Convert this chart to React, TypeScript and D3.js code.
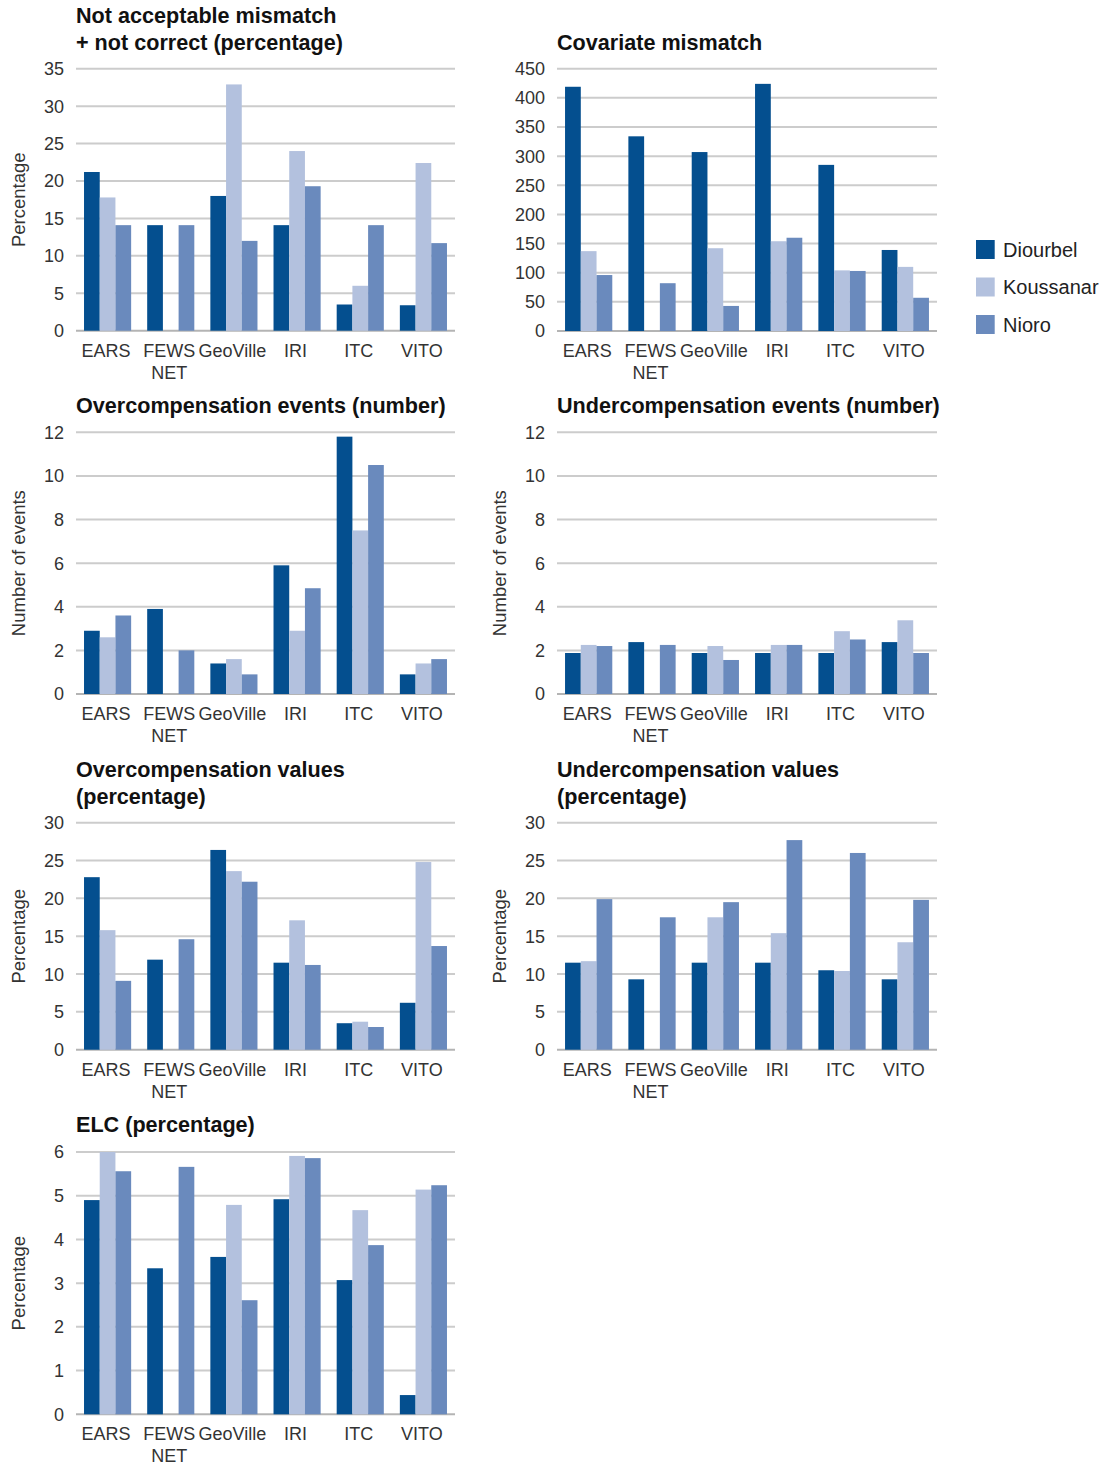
import React from "react";
import * as d3 from "d3";

// ---------- data ----------
const categories = ["EARS", "FEWS NET", "GeoVille", "IRI", "ITC", "VITO"];
const seriesNames = ["Diourbel", "Koussanar", "Nioro"];
const seriesColors = ["#044f8f", "#b3c1de", "#6a8abd"];

// null = no bar
const notAcceptableDiourbel = [21.2, 14.1, 18.0, 14.1, 3.5, 3.4];
const notAcceptableKoussanar = [17.8, null, 32.9, 24.0, 6.0, 22.4];
const notAcceptableNioro = [14.1, 14.1, 12.0, 19.3, 14.1, 11.7];

const covariateDiourbel = [419, 334, 307, 424, 285, 139];
const covariateKoussanar = [137, null, 142, 154, 104, 110];
const covariateNioro = [96, 82, 43, 160, 103, 57];

const overEventsDiourbel = [2.9, 3.9, 1.4, 5.9, 11.8, 0.9];
const overEventsKoussanar = [2.6, null, 1.6, 2.9, 7.5, 1.4];
const overEventsNioro = [3.6, 2.0, 0.9, 4.85, 10.5, 1.6];

const underEventsDiourbel = [1.88, 2.38, 1.88, 1.88, 1.88, 2.38];
const underEventsKoussanar = [2.25, null, 2.2, 2.25, 2.88, 3.38];
const underEventsNioro = [2.2, 2.25, 1.56, 2.25, 2.5, 1.88];

const overValuesDiourbel = [22.8, 11.9, 26.4, 11.5, 3.5, 6.2];
const overValuesKoussanar = [15.8, null, 23.6, 17.1, 3.7, 24.8];
const overValuesNioro = [9.1, 14.6, 22.2, 11.2, 3.0, 13.7];

const underValuesDiourbel = [11.5, 9.3, 11.5, 11.5, 10.5, 9.3];
const underValuesKoussanar = [11.7, null, 17.5, 15.4, 10.4, 14.2];
const underValuesNioro = [19.9, 17.5, 19.5, 27.7, 26.0, 19.8];

const elcDiourbel = [4.9, 3.34, 3.6, 4.92, 3.07, 0.44];
const elcKoussanar = [6.0, null, 4.79, 5.91, 4.67, 5.14];
const elcNioro = [5.56, 5.66, 2.61, 5.86, 3.87, 5.24];

const ticks35 = [0, 5, 10, 15, 20, 25, 30, 35];
const ticks450 = [0, 50, 100, 150, 200, 250, 300, 350, 400, 450];
const ticks12 = [0, 2, 4, 6, 8, 10, 12];
const ticks30 = [0, 5, 10, 15, 20, 25, 30];
const ticks6 = [0, 1, 2, 3, 4, 5, 6];

// ---------- layout / styles ----------
const FONT = "'Liberation Sans', Arial, Helvetica, sans-serif";

type Panel = {
  title: string[];
  yLabel?: string;
  values: (number | null)[][];
  ticks: number[];
  left: number;
  right: number;
  top: number;
  bottom: number;
  titleY: number;
};

const panels: Panel[] = [
  {
    title: ["Not acceptable mismatch", "+ not correct (percentage)"],
    yLabel: "Percentage",
    values: [notAcceptableDiourbel, notAcceptableKoussanar, notAcceptableNioro],
    ticks: ticks35,
    left: 76, right: 455, top: 68.7, bottom: 330.7, titleY: 23,
  },
  {
    title: ["Covariate mismatch"],
    values: [covariateDiourbel, covariateKoussanar, covariateNioro],
    ticks: ticks450,
    left: 557, right: 937, top: 68.7, bottom: 331, titleY: 50,
  },
  {
    title: ["Overcompensation events (number)"],
    yLabel: "Number of events",
    values: [overEventsDiourbel, overEventsKoussanar, overEventsNioro],
    ticks: ticks12,
    left: 76, right: 455, top: 432.3, bottom: 694, titleY: 413,
  },
  {
    title: ["Undercompensation events (number)"],
    yLabel: "Number of events",
    values: [underEventsDiourbel, underEventsKoussanar, underEventsNioro],
    ticks: ticks12,
    left: 557, right: 937, top: 432.3, bottom: 694, titleY: 413,
  },
  {
    title: ["Overcompensation values", "(percentage)"],
    yLabel: "Percentage",
    values: [overValuesDiourbel, overValuesKoussanar, overValuesNioro],
    ticks: ticks30,
    left: 76, right: 455, top: 822.7, bottom: 1049.7, titleY: 777,
  },
  {
    title: ["Undercompensation values", "(percentage)"],
    yLabel: "Percentage",
    values: [underValuesDiourbel, underValuesKoussanar, underValuesNioro],
    ticks: ticks30,
    left: 557, right: 937, top: 822.7, bottom: 1049.7, titleY: 777,
  },
  {
    title: ["ELC (percentage)"],
    yLabel: "Percentage",
    values: [elcDiourbel, elcKoussanar, elcNioro],
    ticks: ticks6,
    left: 76, right: 455, top: 1152, bottom: 1414.3, titleY: 1132,
  },
];

function BarPanel({ p }: { p: Panel }) {
  const x0 = d3
    .scaleBand<string>()
    .domain(categories)
    .range([p.left, p.right])
    .paddingInner(0.254)
    .paddingOuter(0.127);
  const x1 = d3
    .scaleBand<string>()
    .domain(seriesNames)
    .range([0, x0.bandwidth()]);
  const yMax = p.ticks[p.ticks.length - 1];
  const y = d3.scaleLinear().domain([0, yMax]).range([p.bottom, p.top]);

  return (
    <g>
      {p.title.map((t, i) => (
        <text
          key={i}
          x={p.left}
          y={p.titleY + i * 27}
          fontFamily={FONT}
          fontWeight="bold"
          fontSize={21.6}
          fill="#111"
        >
          {t}
        </text>
      ))}
      {p.ticks.map((t) => (
        <g key={t}>
          <line
            x1={p.left}
            x2={p.right}
            y1={y(t)}
            y2={y(t)}
            stroke={t === 0 ? "#b4b4b4" : "#cccccc"}
            strokeWidth={2}
          />
          <text
            x={p.left - 12}
            y={y(t)}
            dy="0.36em"
            textAnchor="end"
            fontFamily={FONT}
            fontSize={18}
            fill="#333"
          >
            {t}
          </text>
        </g>
      ))}
      {p.values.map((vals, si) =>
        vals.map((v, ci) =>
          v == null ? null : (
            <rect
              key={`${si}-${ci}`}
              x={(x0(categories[ci]) ?? 0) + (x1(seriesNames[si]) ?? 0)}
              y={y(v)}
              width={x1.bandwidth()}
              height={y(0) - y(v)}
              fill={seriesColors[si]}
            />
          )
        )
      )}
      {categories.map((c) => {
        const cx = (x0(c) ?? 0) + x0.bandwidth() / 2 - 1.5;
        const parts = c.split(" ");
        return (
          <text
            key={c}
            x={cx}
            y={p.bottom + 25.8}
            textAnchor="middle"
            fontFamily={FONT}
            fontSize={18}
            fill="#333"
          >
            {parts.map((pt, i) => (
              <tspan key={i} x={cx} dy={i === 0 ? 0 : 22}>
                {pt}
              </tspan>
            ))}
          </text>
        );
      })}
      {p.yLabel && (
        <text
          transform={`translate(${p.left - 51},${(p.top + p.bottom) / 2}) rotate(-90)`}
          textAnchor="middle"
          fontFamily={FONT}
          fontSize={18.5}
          fill="#333"
        >
          {p.yLabel}
        </text>
      )}
    </g>
  );
}

function Legend() {
  return (
    <g>
      {seriesNames.map((s, i) => (
        <g key={s} transform={`translate(976,${240 + i * 37.5})`}>
          <rect width={18.7} height={19} fill={seriesColors[i]} />
          <text
            x={27}
            y={9.5}
            dy="0.36em"
            fontFamily={FONT}
            fontSize={20}
            fill="#222"
          >
            {s}
          </text>
        </g>
      ))}
    </g>
  );
}

export default function App() {
  return (
    <svg
      width={1108}
      height={1466}
      style={{ position: "absolute", left: 0, top: 0, background: "#fff" }}
    >
      <rect width={1108} height={1466} fill="#fff" />
      {panels.map((p, i) => (
        <BarPanel key={i} p={p} />
      ))}
      <Legend />
    </svg>
  );
}
